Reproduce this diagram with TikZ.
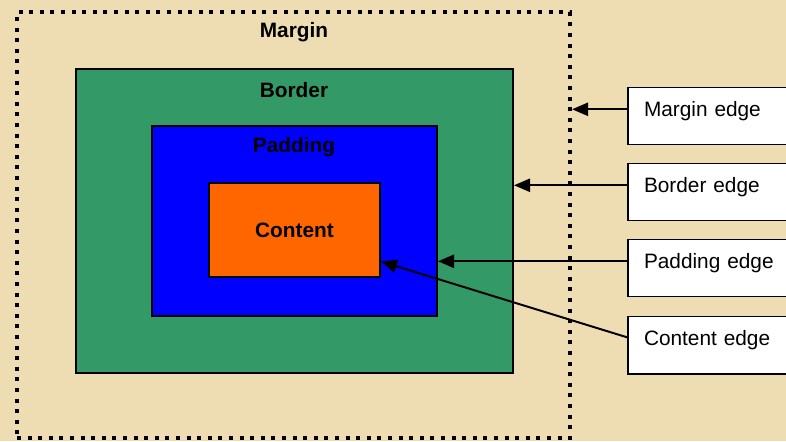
\documentclass[tikz,border=0pt]{standalone}
\usepackage{fontspec}
\setmainfont{Liberation Sans}
\usetikzlibrary{arrows.meta}
\definecolor{bmparch}{HTML}{EEDCB3}
\definecolor{bmgreen}{HTML}{339966}
\definecolor{bmblue}{HTML}{0000FF}
\definecolor{bmorange}{HTML}{FF6600}
\tikzset{
  bmframe/.style={draw, line width=1.4pt, inner sep=0pt},
  bmlab/.style={font=\fontsize{14.8}{17}\selectfont\bfseries, inner sep=2pt},
  bmbox/.style={draw, fill=white, line width=1.4pt, anchor=west, align=left,
                text width=3.7cm, inner xsep=0.3cm, minimum width=4.5cm,
                minimum height=1.425cm, text height=0.3cm, text depth=0.3cm,
                font=\fontsize{14.8}{17}\selectfont},
  bmar/.style={-{Triangle[length=4mm, width=3.3mm]}, line width=1.4pt},
}
\begin{document}
\begin{tikzpicture}[x=0.025cm, y=-0.025cm]
  \useasboundingbox (0,0) rectangle (786,441);
  \clip (0,0) rectangle (786,441);
  \fill[bmparch] (0,0) rectangle (786,441);

  % nested boxes
  \node[bmframe, line width=2.9pt, dash pattern=on 0.1cm off 0.165cm,
        minimum width=13.825cm, minimum height=10.65cm] (margin) at (293.5,225) {};
  \node[bmframe, fill=bmgreen, minimum width=10.925cm, minimum height=7.6cm] (border) at (294.5,221) {};
  \node[bmframe, fill=bmblue, minimum width=7.125cm, minimum height=4.75cm] (padding) at (294.5,221) {};
  \node[bmframe, fill=bmorange, minimum width=4.275cm, minimum height=2.35cm,
        font=\fontsize{14.8}{17}\selectfont\bfseries] (content) at (294.5,230) {Content};

  \node[bmlab] (marginlab) at (294,32) {Margin};
  \node[bmlab] (borderlab) at (294,90) {Border};
  \node[bmlab] (paddinglab) at (294,147) {Padding};

  % edge labels
  \node[bmbox] (medge) at (627,116) {Margin edge};
  \node[bmbox] (bedge) at (627,192) {Border edge};
  \node[bmbox] (pedge) at (627,268) {Padding edge};
  \node[bmbox] (cedge) at (627,345) {Content edge};

  \draw[bmar] ([yshift=0.075cm]medge.mid west) -- ([yshift=0.075cm]medge.mid west -| margin.east);
  \draw[bmar] ([yshift=0.075cm]bedge.mid west) -- ([yshift=0.075cm]bedge.mid west -| border.east);
  \draw[bmar] ([yshift=0.075cm]pedge.mid west) -- ([yshift=0.075cm]pedge.mid west -| padding.east);
  \draw[bmar] ([yshift=0.1cm]cedge.mid west) -- (content.-20);
\end{tikzpicture}
\end{document}
